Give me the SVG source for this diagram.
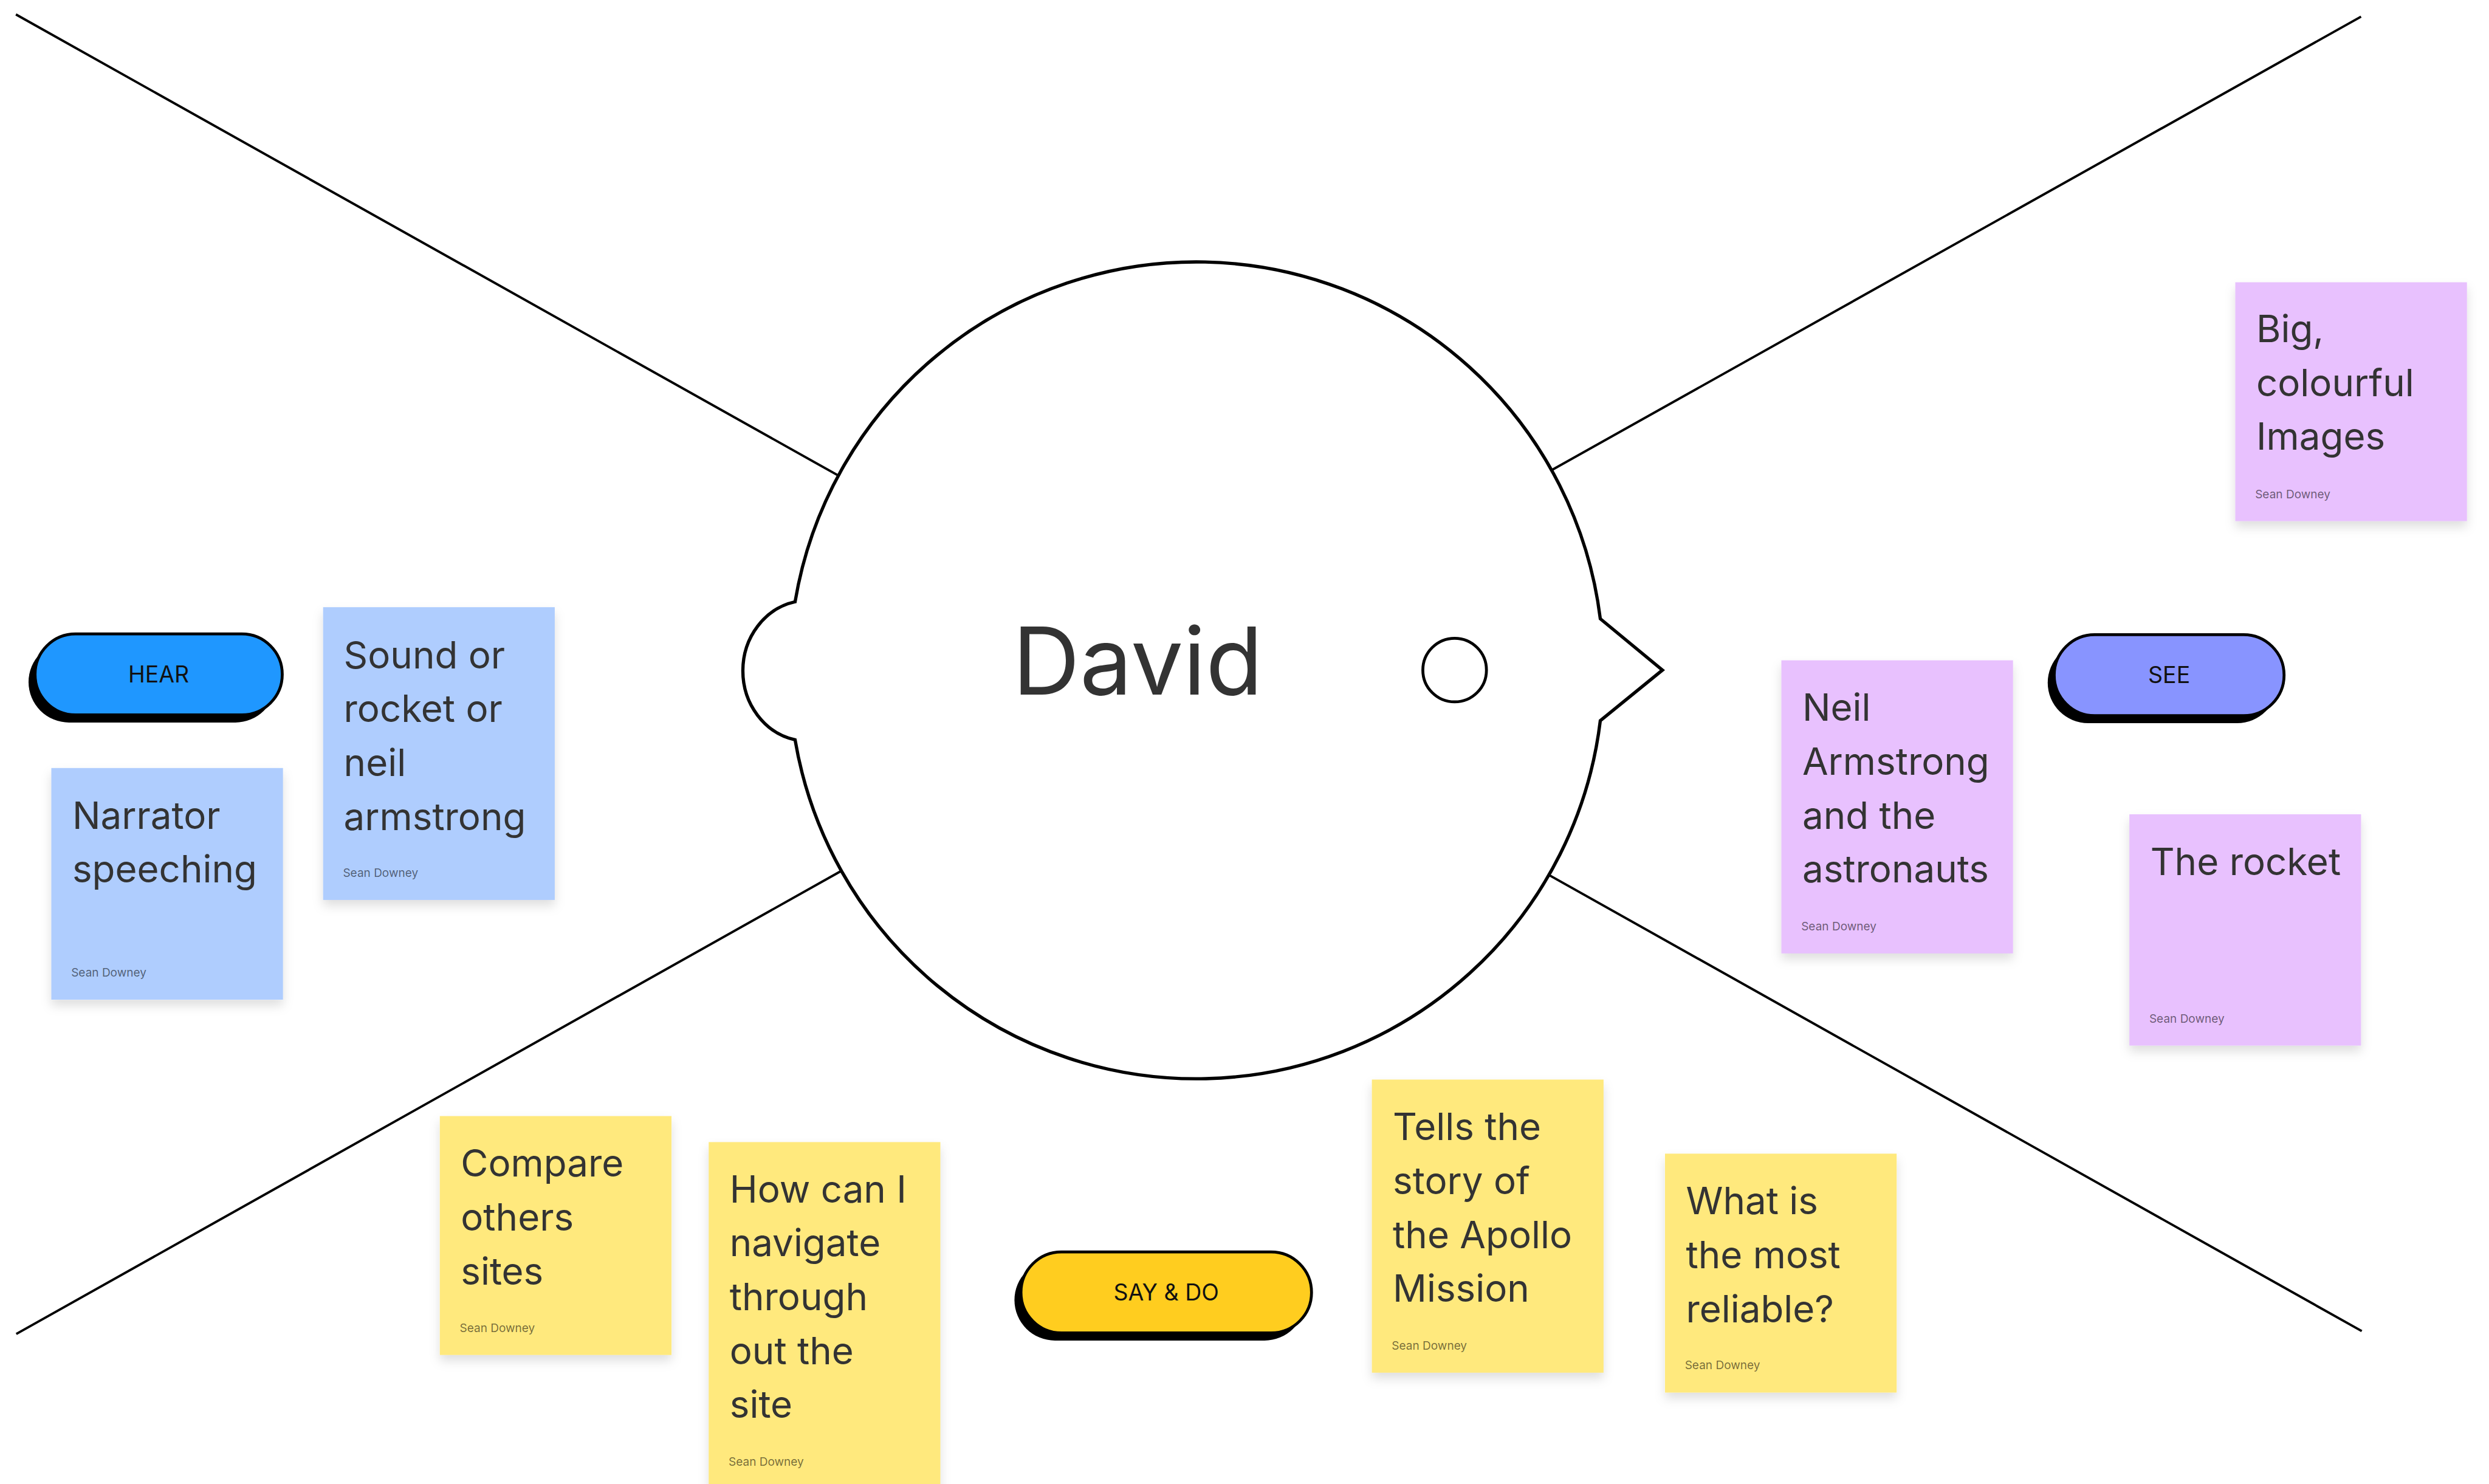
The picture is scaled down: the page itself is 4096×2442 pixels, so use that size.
<svg xmlns="http://www.w3.org/2000/svg" width="4096" height="2442" viewBox="0 0 4096 2442">
  <defs>
    <filter id="stickyShadow" x="-10%" y="-10%" width="120%" height="125%">
      <feDropShadow dx="0" dy="16" stdDeviation="14" flood-color="#000" flood-opacity="0.13"/>
    </filter>
    <style>
      .txt { font-family: Inter, "Liberation Sans", sans-serif; }
      .sticky-body { font-size: 104px; fill: #333333; }
      .author { font-size: 32px; fill: #000000; fill-opacity: 0.55; }
      .pill-label { font-size: 63px; fill: #111111; text-anchor: middle; }
      .pill-shadow { fill: #000000; }
      .pill { stroke: #000000; stroke-width: 8; }
      .blue { fill: #afcdfe; }
      .violet { fill: #e8c1fe; }
      .yellow { fill: #ffe97d; }
      .edge { stroke: #000000; stroke-width: 6.5; fill: none; stroke-linecap: butt; }
      .head { stroke: #000000; stroke-width: 9; fill: #ffffff; stroke-linejoin: miter; }
    </style>
  </defs>
  <rect width="4096" height="2442" fill="#ffffff"/>
  <g transform="scale(0.59474)">
    <g id="connectors">
      <line class="edge" x1="44" y1="40" x2="2320" y2="1316"/>
      <line class="edge" x1="6533" y1="46" x2="4293" y2="1301"/>
      <line class="edge" x1="45" y1="3691" x2="2329" y2="2409"/>
      <line class="edge" x1="6535" y1="3683" x2="4286" y2="2421"/>
    </g>

    <g id="head">
      <path class="head" d="M 2200 1665 A 1126 1126 0 0 1 4428 1712 L 4600 1854 L 4428 1994 A 1126 1126 0 0 1 2200 2047 A 181 195 0 0 1 2200 1665 Z"/>
      <circle cx="4025" cy="1854" r="88" fill="none" stroke="#000" stroke-width="8"/>
      <text class="txt" x="3148" y="1922" font-size="258" fill="#333333" text-anchor="middle">David</text>
    </g>

    <g id="pill-hear">
      <rect class="pill-shadow" x="79" y="1775" width="684" height="224" rx="112"/>
      <rect class="pill" x="97" y="1754" width="684" height="224" rx="112" fill="#1f97ff"/>
      <text class="txt pill-label" x="439" y="1889">HEAR</text>
    </g>

    <g id="pill-see">
      <rect class="pill-shadow" x="5666" y="1777" width="636" height="224" rx="112"/>
      <rect class="pill" x="5684" y="1756" width="636" height="224" rx="112" fill="#8894ff"/>
      <text class="txt pill-label" x="6002" y="1890">SEE</text>
    </g>

    <g id="pill-saydo">
      <rect class="pill-shadow" x="2807" y="3485" width="804" height="224" rx="112"/>
      <rect class="pill" x="2825" y="3464" width="804" height="224" rx="112" fill="#ffcd1f"/>
      <text class="txt pill-label" x="3227" y="3598">SAY &amp; DO</text>
    </g>

    <g id="sticky-sound">
      <rect class="blue" x="894" y="1680" width="641" height="810" filter="url(#stickyShadow)"/>
      <text class="txt sticky-body" x="951" y="1849">Sound or</text>
      <text class="txt sticky-body" x="951" y="1998">rocket or</text>
      <text class="txt sticky-body" x="951" y="2147">neil</text>
      <text class="txt sticky-body" x="951" y="2296">armstrong</text>
      <text class="txt author" x="949" y="2426">Sean Downey</text>
    </g>

    <g id="sticky-narrator">
      <rect class="blue" x="142" y="2125" width="641" height="641" filter="url(#stickyShadow)"/>
      <text class="txt sticky-body" x="200" y="2293">Narrator</text>
      <text class="txt sticky-body" x="200" y="2442">speeching</text>
      <text class="txt author" x="197" y="2702">Sean Downey</text>
    </g>

    <g id="sticky-neil">
      <rect class="violet" x="4929" y="1827" width="641" height="811" filter="url(#stickyShadow)"/>
      <text class="txt sticky-body" x="4987" y="1995">Neil</text>
      <text class="txt sticky-body" x="4987" y="2144">Armstrong</text>
      <text class="txt sticky-body" x="4987" y="2293">and the</text>
      <text class="txt sticky-body" x="4987" y="2442">astronauts</text>
      <text class="txt author" x="4984" y="2575">Sean Downey</text>
    </g>

    <g id="sticky-rocket">
      <rect class="violet" x="5892" y="2253" width="641" height="640" filter="url(#stickyShadow)"/>
      <text class="txt sticky-body" x="5950" y="2421">The rocket</text>
      <text class="txt author" x="5947" y="2830">Sean Downey</text>
    </g>

    <g id="sticky-images">
      <rect class="violet" x="6185" y="781" width="641" height="661" filter="url(#stickyShadow)"/>
      <text class="txt sticky-body" x="6243" y="947">Big,</text>
      <text class="txt sticky-body" x="6243" y="1096">colourful</text>
      <text class="txt sticky-body" x="6243" y="1245">Images</text>
      <text class="txt author" x="6240" y="1378">Sean Downey</text>
    </g>

    <g id="sticky-compare">
      <rect class="yellow" x="1217" y="3088" width="641" height="661" filter="url(#stickyShadow)"/>
      <text class="txt sticky-body" x="1275" y="3256">Compare</text>
      <text class="txt sticky-body" x="1275" y="3405">others</text>
      <text class="txt sticky-body" x="1275" y="3554">sites</text>
      <text class="txt author" x="1272" y="3685">Sean Downey</text>
    </g>

    <g id="sticky-navigate">
      <rect class="yellow" x="1961" y="3160" width="641" height="960" filter="url(#stickyShadow)"/>
      <text class="txt sticky-body" x="2019" y="3327">How can I</text>
      <text class="txt sticky-body" x="2019" y="3476">navigate</text>
      <text class="txt sticky-body" x="2019" y="3625">through</text>
      <text class="txt sticky-body" x="2019" y="3774">out the</text>
      <text class="txt sticky-body" x="2019" y="3923">site</text>
      <text class="txt author" x="2016" y="4056">Sean Downey</text>
    </g>

    <g id="sticky-apollo">
      <rect class="yellow" x="3796" y="2987" width="641" height="811" filter="url(#stickyShadow)"/>
      <text class="txt sticky-body" x="3854" y="3155">Tells the</text>
      <text class="txt sticky-body" x="3854" y="3304">story of</text>
      <text class="txt sticky-body" x="3854" y="3453">the Apollo</text>
      <text class="txt sticky-body" x="3854" y="3602">Mission</text>
      <text class="txt author" x="3851" y="3734">Sean Downey</text>
    </g>

    <g id="sticky-reliable">
      <rect class="yellow" x="4607" y="3192" width="641" height="661" filter="url(#stickyShadow)"/>
      <text class="txt sticky-body" x="4665" y="3360">What is</text>
      <text class="txt sticky-body" x="4665" y="3509">the most</text>
      <text class="txt sticky-body" x="4665" y="3658">reliable?</text>
      <text class="txt author" x="4662" y="3789">Sean Downey</text>
    </g>
  </g>
</svg>
